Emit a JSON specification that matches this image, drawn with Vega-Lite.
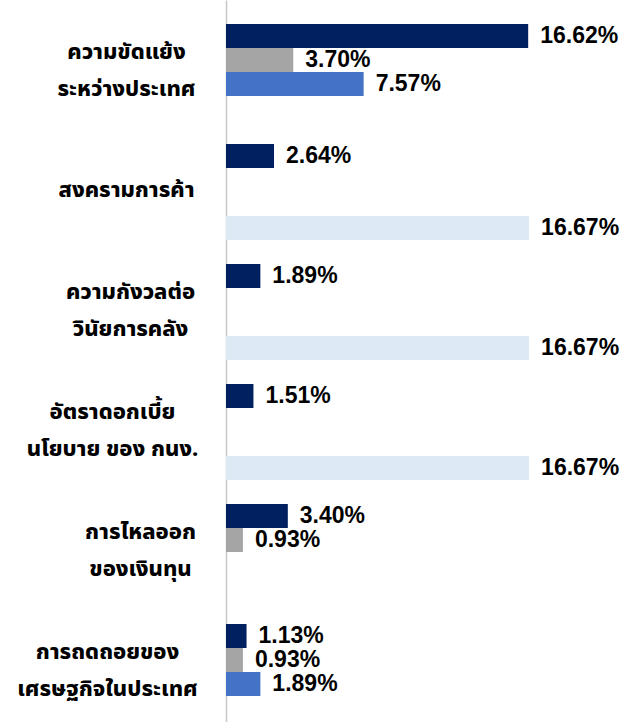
{
  "$schema": "https://vega.github.io/schema/vega-lite/v6.json",
  "width": 410,
  "height": 744,
  "autosize": {"type": "none"},
  "padding": {"left": 226, "top": 0, "right": 2, "bottom": 0},
  "background": "white",
  "config": {"view": {"stroke": null}},
  "data": {
    "values": [
      {"cat": "ความขัดแย้ง|ระหว่างประเทศ", "slot": "a", "s": "s1", "v": 0.1662},
      {"cat": "ความขัดแย้ง|ระหว่างประเทศ", "slot": "b", "s": "s2", "v": 0.0370},
      {"cat": "ความขัดแย้ง|ระหว่างประเทศ", "slot": "c", "s": "s3", "v": 0.0757},
      {"cat": "สงครามการค้า", "slot": "a", "s": "s1", "v": 0.0264},
      {"cat": "สงครามการค้า", "slot": "d", "s": "s4", "v": 0.1667},
      {"cat": "ความกังวลต่อ|วินัยการคลัง", "slot": "a", "s": "s1", "v": 0.0189},
      {"cat": "ความกังวลต่อ|วินัยการคลัง", "slot": "d", "s": "s4", "v": 0.1667},
      {"cat": "อัตราดอกเบี้ย|นโยบาย ของ กนง.", "slot": "a", "s": "s1", "v": 0.0151},
      {"cat": "อัตราดอกเบี้ย|นโยบาย ของ กนง.", "slot": "d", "s": "s4", "v": 0.1667},
      {"cat": "การไหลออก|ของเงินทุน", "slot": "a", "s": "s1", "v": 0.0340},
      {"cat": "การไหลออก|ของเงินทุน", "slot": "b", "s": "s2", "v": 0.0093},
      {"cat": "การถดถอยของ|เศรษฐกิจในประเทศ", "slot": "a", "s": "s1", "v": 0.0113},
      {"cat": "การถดถอยของ|เศรษฐกิจในประเทศ", "slot": "b", "s": "s2", "v": 0.0093},
      {"cat": "การถดถอยของ|เศรษฐกิจในประเทศ", "slot": "c", "s": "s3", "v": 0.0189}
    ]
  },
  "encoding": {
    "y": {
      "field": "cat",
      "type": "nominal",
      "sort": null,
      "scale": {"paddingInner": 0.2, "paddingOuter": 0.2},
      "axis": {
        "title": null,
        "domain": true,
        "domainColor": "#C8C8C8",
        "domainWidth": 1.5,
        "ticks": false,
        "labelExpr": "split(datum.value, '|')",
        "labelAlign": "center",
        "labelBaseline": "middle",
        "labelOffset": {"expr": "indexof(datum.value, '|') >= 0 ? -20 : -2"},
        "labelLineHeight": 37,
        "labelFont": "Noto Sans Thai, Noto Sans, sans-serif",
        "labelFontSize": 22,
        "labelFontWeight": 800,
        "labelColor": "black",
        "labelLimit": 0,
        "labelBound": false,
        "labelOverlap": false,
        "labelPadding": {"expr": "indexof(datum.value, 'ขัดแย้ง') >= 0 ? 100 : indexof(datum.value, 'สงคราม') >= 0 ? 100 : indexof(datum.value, 'กังวล') >= 0 ? 96 : indexof(datum.value, 'ดอกเบี้ย') >= 0 ? 114 : indexof(datum.value, 'ไหลออก') >= 0 ? 86 : 119"}
      }
    },
    "yOffset": {
      "field": "slot",
      "type": "nominal",
      "scale": {"domain": ["a", "b", "c", "d"], "paddingInner": 0, "paddingOuter": 0}
    },
    "x": {
      "field": "v",
      "type": "quantitative",
      "scale": {"domain": [0, 0.2255]},
      "axis": null
    }
  },
  "layer": [
    {
      "mark": {"type": "bar"},
      "encoding": {
        "color": {
          "field": "s",
          "type": "nominal",
          "scale": {"domain": ["s1", "s2", "s3", "s4"], "range": ["#002060", "#A5A5A5", "#4472C4", "#DDE9F5"]},
          "legend": null
        }
      }
    },
    {
      "mark": {"type": "text", "align": "left", "baseline": "middle", "dx": 12, "font": "Liberation Sans", "fontWeight": "bold", "fontSize": 23, "color": "black"},
      "encoding": {
        "text": {"field": "v", "type": "quantitative", "format": ".2%"}
      }
    }
  ]
}
